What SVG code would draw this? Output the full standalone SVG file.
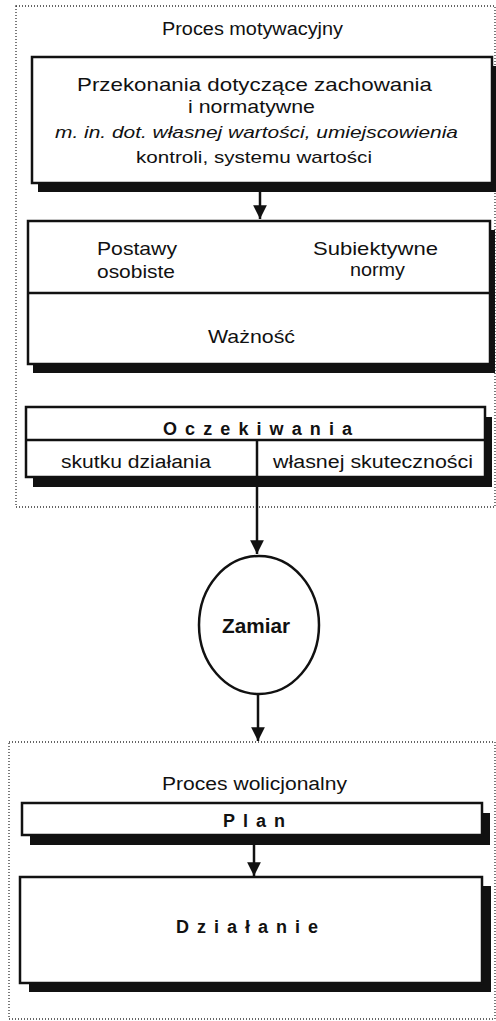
<svg xmlns="http://www.w3.org/2000/svg" width="496" height="1021" viewBox="0 0 496 1021">
<defs>
<style>
.t{font-family:"Liberation Sans",Arial,sans-serif;fill:#111;}
.b{font-weight:bold;}
.box{fill:#fff;stroke:#111;stroke-width:2.5;}
.sh{fill:#111;}
.dot{fill:none;stroke:#333;stroke-width:1.3;stroke-dasharray:1 2;}
.ln{stroke:#111;stroke-width:2.5;fill:none;}
</style>
<marker id="ah" viewBox="0 0 10 10" refX="10" refY="5" markerWidth="5.5" markerHeight="6" markerUnits="strokeWidth" orient="auto">
<path d="M0,0 L10,5 L0,10 Z" fill="#111"/>
</marker>
</defs>
<g id="grp-motywacyjny">
<rect class="dot" x="16" y="6" width="479" height="501"/>
<text class="t" x="162" y="35" font-size="18" textLength="181" lengthAdjust="spacingAndGlyphs">Proces motywacyjny</text>
</g>
<g id="grp-wolicjonalny">
<rect class="dot" x="9" y="742" width="486" height="277"/>
<text class="t" x="162" y="790" font-size="18" textLength="185" lengthAdjust="spacingAndGlyphs">Proces wolicjonalny</text>
</g>
<g id="connectors">
<line class="ln" x1="260" y1="183" x2="260" y2="219" marker-end="url(#ah)"/>
<line class="ln" x1="257" y1="477" x2="257" y2="554" marker-end="url(#ah)"/>
<line class="ln" x1="258" y1="695" x2="258" y2="741" marker-end="url(#ah)"/>
<line class="ln" x1="254" y1="835" x2="254" y2="876" marker-end="url(#ah)"/>
</g>
<g id="node-przekonania">
<rect class="sh" x="38" y="66" width="460" height="126"/>
<rect class="box" x="32" y="57" width="460" height="126"/>
<text class="t" x="77" y="91" font-size="19" textLength="355" lengthAdjust="spacingAndGlyphs">Przekonania dotyczące zachowania</text>
<text class="t" x="188" y="113" font-size="19" textLength="127" lengthAdjust="spacingAndGlyphs">i normatywne</text>
<text class="t" x="55" y="138" font-size="17" font-style="italic" textLength="403" lengthAdjust="spacingAndGlyphs">m. in. dot. własnej wartości, umiejscowienia</text>
<text class="t" x="136" y="163" font-size="17" textLength="236" lengthAdjust="spacingAndGlyphs">kontroli, systemu wartości</text>
</g>
<g id="node-postawy">
<rect class="sh" x="33" y="230" width="462" height="143"/>
<rect class="box" x="28" y="221" width="462" height="143"/>
<line class="ln" x1="28" y1="293" x2="490" y2="293"/>
<text class="t" x="97" y="255" font-size="19" textLength="80" lengthAdjust="spacingAndGlyphs">Postawy</text>
<text class="t" x="97" y="278" font-size="19" textLength="78" lengthAdjust="spacingAndGlyphs">osobiste</text>
<text class="t" x="313" y="255" font-size="19" textLength="125" lengthAdjust="spacingAndGlyphs">Subiektywne</text>
<text class="t" x="350" y="276" font-size="19" textLength="55" lengthAdjust="spacingAndGlyphs">normy</text>
<text class="t" x="208" y="343" font-size="19" textLength="87" lengthAdjust="spacingAndGlyphs">Ważność</text>
</g>
<g id="node-oczekiwania">
<rect class="sh" x="33" y="417" width="459" height="70"/>
<rect class="box" x="26" y="407" width="459" height="70"/>
<line class="ln" x1="26" y1="440" x2="485" y2="440"/>
<line class="ln" x1="257" y1="440" x2="257" y2="477"/>
<text class="t b" x="163" y="435" font-size="18" textLength="189" lengthAdjust="spacing">Oczekiwania</text>
<text class="t" x="61" y="468" font-size="18" textLength="150" lengthAdjust="spacingAndGlyphs">skutku działania</text>
<text class="t" x="273" y="468" font-size="18" textLength="200" lengthAdjust="spacingAndGlyphs">własnej skuteczności</text>
</g>
<g id="node-zamiar">
<ellipse cx="259" cy="625" rx="60" ry="69" fill="#fff" stroke="#111" stroke-width="2.5"/>
<text class="t b" x="222" y="633" font-size="20" textLength="68" lengthAdjust="spacingAndGlyphs">Zamiar</text>
</g>
<g id="node-plan">
<rect class="sh" x="30" y="813" width="460" height="32"/>
<rect class="box" x="22" y="803" width="460" height="32"/>
<text class="t b" x="223" y="827" font-size="18" textLength="62" lengthAdjust="spacing">Plan</text>
</g>
<g id="node-dzialanie">
<rect class="sh" x="29" y="886" width="462" height="106"/>
<rect class="box" x="20" y="877" width="462" height="106"/>
<text class="t b" x="176" y="933" font-size="18" textLength="142" lengthAdjust="spacing">Działanie</text>
</g>
</svg>
